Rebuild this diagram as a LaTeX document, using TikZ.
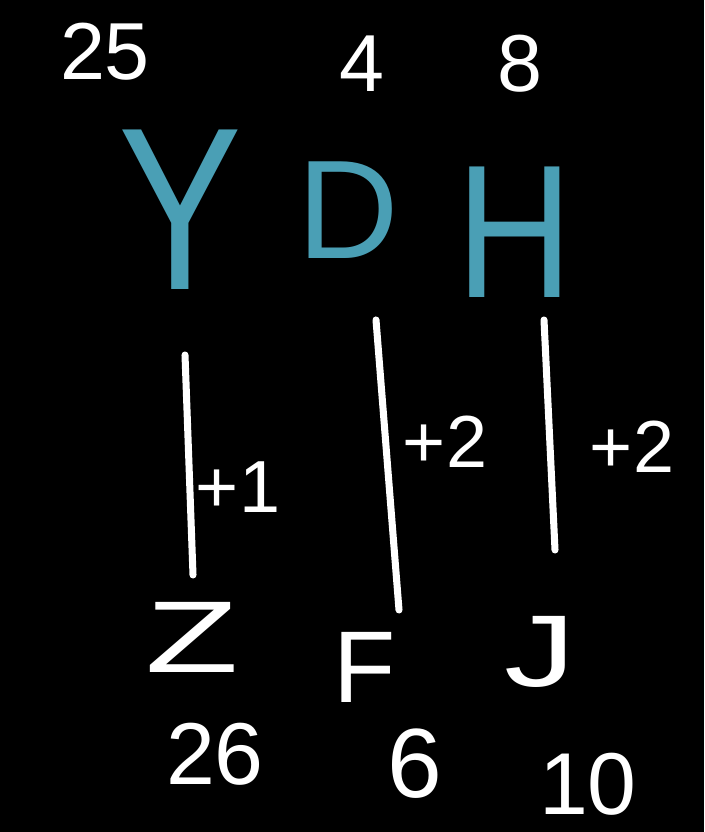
\documentclass[tikz,border=0pt]{standalone}
\usepackage{fontspec}
\setmainfont{Liberation Sans}
\definecolor{ink}{RGB}{74,159,181}
\begin{document}
\begin{tikzpicture}[num/.style={text=white,font=\fontsize{23}{26}\selectfont},
    big/.style={text=ink,font=\fontsize{40}{44}\selectfont},
    bot/.style={text=white,font=\fontsize{29}{32}\selectfont},
    lbl/.style={text=white,font=\fontsize{21}{24}\selectfont},
    stroke/.style={white,line width=2pt,line cap=round}]
    \fill[black] (0,0) rectangle (7.04,8.32);
    \useasboundingbox (0,0) rectangle (7.04,8.32);

    \node[num] (n25) at (1.05,7.80) {25};
    \node[num] (n4)  at (3.62,7.68) {4};
    \node[num] (n8)  at (5.20,7.68) {8};

    \node[big,font=\fontsize{66}{70}\selectfont,xscale=0.8] (y) at (1.80,6.22) {Y};
    \node[big] (d) at (3.48,6.22) {D};
    \node[big,font=\fontsize{54}{58}\selectfont,xscale=0.85] (h) at (5.15,6.00) {H};

    \coordinate (t1) at (1.85,4.77);
    \coordinate (e1) at (1.93,2.57);
    \coordinate (t2) at (3.76,5.12);
    \coordinate (e2) at (3.99,2.22);
    \coordinate (t3) at (5.44,5.12);
    \coordinate (e3) at (5.55,2.82);

    \draw[stroke] (t1) -- (e1);
    \draw[stroke] (t2) -- (e2);
    \draw[stroke] (t3) -- (e3);

    \node[lbl] (p1) at (2.38,3.45) {+1};
    \node[lbl] (p2) at (4.45,3.90) {+2};
    \node[lbl] (p3) at (6.32,3.85) {+2};

    \node[bot,xscale=1.5] (z) at (1.92,1.95) {Z};
    \node[bot] (f) at (3.65,1.65) {F};
    \node[bot,xscale=1.4] (j) at (5.40,1.80) {J};

    \node[num,font=\fontsize{25}{28}\selectfont] (n26) at (2.15,0.78) {26};
    \node[num,font=\fontsize{28}{30}\selectfont] (n6)  at (4.15,0.68) {6};
    \node[num,font=\fontsize{25}{28}\selectfont] (n10) at (5.88,0.48) {10};
\end{tikzpicture}
\end{document}
